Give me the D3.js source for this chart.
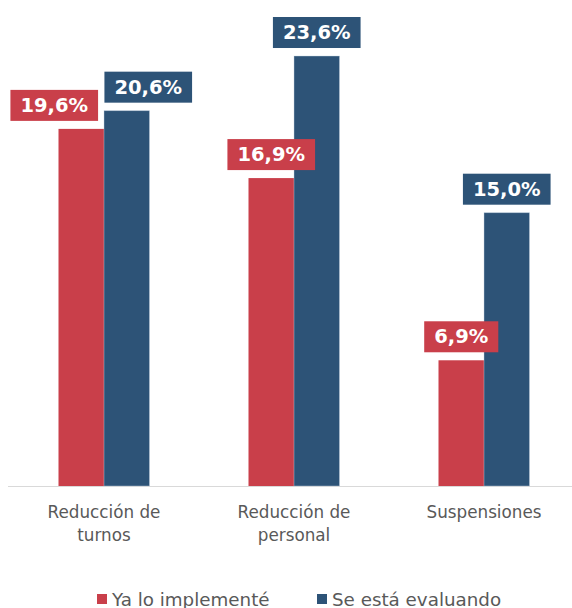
<!DOCTYPE html>
<html>
<head>
<meta charset="utf-8">
<script src="https://cdn.jsdelivr.net/npm/d3@7"></script>
<style>
  html, body { margin: 0; padding: 0; background: #fff; }
  svg { display: block; font-family: Verdana, "DejaVu Sans", sans-serif; }
</style>
</head>
<body>
<svg id="chart" width="572" height="608"></svg>
<script>
// Categories and series values (percent)
const categories = [["Reducción de", "turnos"], ["Reducción de", "personal"], ["Suspensiones"]];
const seriesNames = ["Ya lo implementé", "Se está evaluando"];
const implemented = [19.6, 16.9, 6.9];
const evaluating = [20.6, 23.6, 15.0];
const seriesValues = [implemented, evaluating];
const colors = ["#C93F4A", "#2D5377"];
// Horizontal nudges for value labels that would otherwise collide
const labelShift = [[-27, 21.5], [0, 0], [0, 0]];

const svg = d3.select("#chart");
const baseY = 486;

const catKeys = categories.map((c, i) => i);
const x0 = d3.scaleBand().domain(catKeys).range([9, 579]).padding(0);
const x1 = d3.scaleBand().domain([0, 1]).range([49.5, 140.5]).padding(0);
const y = d3.scaleLinear().domain([0, 25]).range([baseY, baseY - 25 * 18.22]);

const fmt = v => d3.format(".1f")(v).replace(".", ",") + "%";

// Baseline
svg.append("line")
  .attr("x1", 8).attr("x2", 572)
  .attr("y1", baseY + 0.5).attr("y2", baseY + 0.5)
  .attr("stroke", "#d9d9d9").attr("stroke-width", 1.2);

// Bars
const groups = svg.selectAll("g.cat").data(catKeys).join("g")
  .attr("class", "cat")
  .attr("transform", d => `translate(${x0(d)},0)`);

groups.selectAll("rect.bar")
  .data(ci => seriesValues.map((vals, si) => ({ ci, si, v: vals[ci] })))
  .join("rect")
  .attr("class", "bar")
  .attr("x", d => x1(d.si))
  .attr("width", x1.bandwidth())
  .attr("y", d => y(d.v))
  .attr("height", d => baseY - y(d.v))
  .attr("fill", d => colors[d.si])
  .attr("stroke", d => d.si === 1 ? "rgba(200,215,230,0.5)" : "none")
  .attr("stroke-width", 0.8);

// Value labels in filled boxes
groups.each(function (ci) {
  const g = d3.select(this);
  seriesValues.forEach((vals, si) => {
    const v = vals[ci];
    const cx = x1(si) + x1.bandwidth() / 2 + labelShift[ci][si];
    const lg = g.append("g");
    const t = lg.append("text")
      .attr("x", cx)
      .attr("y", y(v) - 8 - 15.5)
      .attr("text-anchor", "middle")
      .attr("dominant-baseline", "central")
      .attr("fill", "#fff")
      .attr("font-weight", "bold")
      .attr("font-size", 19.5)
      .text(fmt(v));
    const w = t.node().getComputedTextLength() + 20;
    lg.insert("rect", "text")
      .attr("x", cx - w / 2)
      .attr("y", y(v) - 8 - 31)
      .attr("width", w)
      .attr("height", 31)
      .attr("fill", colors[si]);
  });
});

// Category labels
groups.append("text")
  .attr("x", x0.bandwidth() / 2)
  .attr("y", 518)
  .attr("text-anchor", "middle")
  .attr("fill", "#595959")
  .attr("font-size", 16.8)
  .selectAll("tspan")
  .data(ci => categories[ci])
  .join("tspan")
  .attr("x", x0.bandwidth() / 2)
  .attr("dy", (d, i) => i === 0 ? 0 : 22.5)
  .text(d => d);

// Legend
const legendX = [97, 317];
seriesNames.forEach((name, si) => {
  svg.append("rect")
    .attr("x", legendX[si]).attr("y", 594)
    .attr("width", 10).attr("height", 10)
    .attr("fill", colors[si]);
  svg.append("text")
    .attr("x", legendX[si] + 15).attr("y", 606)
    .attr("fill", "#595959")
    .attr("font-size", 18.3)
    .text(name);
});
</script>
</body>
</html>
